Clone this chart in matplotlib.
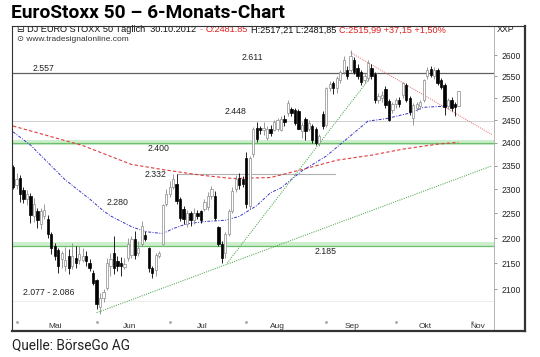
import matplotlib
matplotlib.use("Agg")
import matplotlib.pyplot as plt
from matplotlib.lines import Line2D
from matplotlib.ticker import FixedLocator, NullLocator

# Tageskerzen, Index 0 = Ende April 2012, Index 128 = 30.10.2012
eroeffnung = [2348, 2310, 2324, 2298, 2280, 2286, 2245, 2256, 2229, 2244,
              2238, 2209, 2184, 2176, 2158, 2145, 2164, 2145, 2160, 2156,
              2157, 2164, 2150, 2131, 2117, 2066, 2083, 2102, 2145, 2170,
              2154, 2150, 2143, 2160, 2166, 2199, 2170, 2189, 2207, 2180,
              2141, 2137, 2164, 2189, 2270, 2290, 2306, 2311, 2280, 2260,
              2229, 2250, 2236, 2250, 2254, 2260, 2264, 2286, 2286, 2223,
              2189, 2170, 2209, 2254, 2301, 2325, 2322, 2366, 2266, 2375,
              2433, 2433, 2429, 2411, 2431, 2429, 2431, 2429, 2453, 2466,
              2475, 2473, 2471, 2427, 2453, 2431, 2438, 2431, 2400, 2464,
              2440, 2522, 2534, 2522, 2541, 2560, 2565, 2565, 2588, 2570,
              2560, 2541, 2546, 2570, 2555, 2495, 2500, 2520, 2493, 2473,
              2486, 2495, 2507, 2530, 2500, 2455, 2477, 2482, 2495, 2551,
              2567, 2550, 2565, 2541, 2530, 2482, 2495, 2486, 2481.85]
hoch = [2352, 2335, 2330, 2305, 2298, 2292, 2282, 2262, 2262, 2270,
        2246, 2212, 2190, 2180, 2175, 2182, 2178, 2190, 2185, 2185,
        2180, 2175, 2158, 2136, 2120, 2093, 2100, 2160, 2170, 2205,
        2165, 2162, 2160, 2200, 2205, 2215, 2195, 2234, 2215, 2182,
        2145, 2170, 2175, 2270, 2300, 2318, 2332, 2332, 2285, 2265,
        2258, 2255, 2262, 2258, 2258, 2280, 2295, 2308, 2296, 2225,
        2195, 2212, 2260, 2305, 2330, 2335, 2328, 2380, 2372, 2435,
        2445, 2438, 2445, 2438, 2440, 2450, 2455, 2460, 2462, 2495,
        2480, 2478, 2475, 2445, 2458, 2450, 2442, 2435, 2420, 2470,
        2525, 2540, 2540, 2550, 2565, 2598, 2575, 2611, 2595, 2578,
        2565, 2558, 2588, 2578, 2560, 2512, 2515, 2528, 2498, 2490,
        2500, 2502, 2538, 2535, 2505, 2488, 2492, 2496, 2545, 2572,
        2575, 2572, 2570, 2546, 2535, 2500, 2502, 2492, 2517.21]
tief = [2300, 2300, 2273, 2272, 2268, 2230, 2232, 2220, 2218, 2238,
        2200, 2168, 2156, 2130, 2140, 2135, 2128, 2138, 2140, 2148,
        2152, 2145, 2135, 2108, 2062, 2052, 2075, 2098, 2125, 2128,
        2135, 2125, 2138, 2155, 2160, 2158, 2165, 2185, 2194, 2132,
        2122, 2126, 2160, 2187, 2265, 2285, 2300, 2270, 2235, 2228,
        2222, 2225, 2228, 2238, 2230, 2255, 2258, 2280, 2236, 2185,
        2150, 2160, 2205, 2250, 2295, 2300, 2305, 2262, 2260, 2370,
        2402, 2420, 2418, 2405, 2415, 2425, 2425, 2425, 2438, 2460,
        2460, 2440, 2430, 2410, 2405, 2425, 2400, 2395, 2392, 2430,
        2435, 2515, 2510, 2512, 2535, 2555, 2545, 2560, 2555, 2545,
        2530, 2535, 2540, 2545, 2488, 2488, 2492, 2478, 2448, 2465,
        2478, 2480, 2500, 2490, 2462, 2440, 2470, 2476, 2490, 2545,
        2548, 2545, 2530, 2520, 2462, 2475, 2470, 2460, 2481.85]
schluss = [2306, 2322, 2290, 2280, 2290, 2246, 2270, 2236, 2256, 2258,
           2209, 2180, 2164, 2145, 2170, 2157, 2141, 2164, 2150, 2168,
           2164, 2154, 2141, 2112, 2072, 2083, 2095, 2150, 2158, 2141,
           2145, 2145, 2148, 2189, 2199, 2166, 2180, 2225, 2199, 2141,
           2131, 2166, 2170, 2268, 2290, 2306, 2322, 2276, 2240, 2238,
           2250, 2236, 2250, 2244, 2236, 2274, 2286, 2301, 2240, 2189,
           2160, 2209, 2254, 2297, 2322, 2309, 2311, 2270, 2366, 2431,
           2409, 2429, 2433, 2431, 2422, 2447, 2451, 2453, 2445, 2488,
           2466, 2444, 2431, 2440, 2425, 2444, 2407, 2400, 2414, 2436,
           2522, 2532, 2522, 2546, 2560, 2588, 2551, 2597, 2560, 2551,
           2537, 2551, 2581, 2551, 2495, 2505, 2507, 2484, 2451, 2486,
           2495, 2486, 2534, 2495, 2468, 2484, 2486, 2491, 2541, 2565,
           2553, 2565, 2535, 2525, 2480, 2495, 2477, 2479, 2515.99]

ma_blau_idx = [0, 5, 15, 22, 26, 28, 34, 38, 43, 46, 50, 56, 61, 65, 70,
               74, 77, 83, 90, 96, 102, 107, 114, 118, 123, 128]
ma_blau = [2424, 2395, 2320, 2280, 2255, 2245, 2223, 2213, 2209, 2219, 2229,
           2234, 2236, 2244, 2266, 2293, 2303, 2339, 2371, 2409, 2448, 2453,
           2466, 2479, 2481, 2484]
ma_rot_idx = [0, 20, 34, 43, 54, 63, 74, 83, 93, 103, 112, 122, 128]
ma_rot = [2437, 2394, 2353, 2342, 2330, 2323, 2325, 2342, 2362, 2373, 2386,
          2397, 2401]

# Trendlinien (Start-/Endpunkt)
trend_lang_x, trend_lang_y = [24, 137.6], [2055, 2350]
trend_steil_x, trend_steil_y = [61.5, 102.6], [2150, 2547]
trend_rot_x, trend_rot_y = [97, 137.6], [2606, 2418]

monate = ["Mai", "Jun", "Jul", "Aug", "Sep", "Okt", "Nov"]
monate_pos = [12.1, 33.6, 54.3, 76.1, 97.4, 118.4, 133.6]
monatsanfang = [1, 24, 45, 67, 90, 110, 132]
preis_ticks = [2100, 2150, 2200, 2250, 2300, 2350, 2400, 2450, 2500, 2550, 2600]

# Marken: Text, Index, Kurs
marken = [("2.611", 68.7, 2595), ("2.557", 8.9, 2569), ("2.448", 64.0, 2470),
          ("2.400", 41.7, 2387), ("2.332", 40.8, 2332), ("2.280", 30.0, 2272),
          ("2.185", 89.7, 2174), ("2.077 - 2.086", 10.3, 2093)]

W, H = 540, 357
fig = plt.figure(figsize=(W / 100, H / 100), dpi=100)
plt.rcParams["font.family"] = ["Liberation Sans", "DejaVu Sans"]

ax = fig.add_axes([12 / W, (H - 331) / H, (494 - 12) / W, (331 - 26) / H])
ax.set_yscale("log")
ax.set_xlim(-0.3, 138.2)
ax.set_ylim(2021, 2670)

# Unterstuetzungszonen
for unten, oben, linie in [(2396, 2407, 2400), (2182, 2193, 2185)]:
    ax.axhspan(unten, oben, color="#cdeecd", lw=0, zorder=1)
    ax.axhline(linie, color="#6cbf6c", lw=0.9, zorder=1.1)

ax.axhline(2557, color="#606060", lw=0.9, zorder=1)
ax.axhline(2448, color="#cfcfcf", lw=0.7, zorder=1)
ax.axhline(2077, color="#ececec", lw=0.7, zorder=1)
ax.plot([47, 92.5], [2332, 2332], color="#b0b0b0", lw=0.8, zorder=1)

ax.plot(ma_rot_idx, ma_rot, color="#e03c3c", lw=0.8, ls=(0, (3, 2)), zorder=2)
ax.plot(ma_blau_idx, ma_blau, color="#3535c8", lw=0.7, ls=(0, (3, 1.5, 1, 1.5)), zorder=2)
ax.plot(trend_lang_x, trend_lang_y, color="#4aa84a", lw=0.75, ls=(0, (1, 1.2)), zorder=2)
ax.plot(trend_steil_x, trend_steil_y, color="#4aa84a", lw=0.75, ls=(0, (1, 1.2)), zorder=2)
ax.plot(trend_rot_x, trend_rot_y, color="#e06a6a", lw=0.7, ls=(0, (1, 1.2)), zorder=2)

# Kerzen
for i, (o, h, l, c) in enumerate(zip(eroeffnung, hoch, tief, schluss)):
    fallend = c < o
    farbe = "black" if fallend else "#8a8a8a"
    ax.vlines(i, l, h, color=farbe, lw=0.6, zorder=3)
    ax.bar(i, max(abs(c - o), 1.5), bottom=min(o, c), width=0.65,
           color="black" if fallend else "white", edgecolor=farbe, lw=0.5, zorder=4)

for text, xi, kurs in marken:
    ax.text(xi, kurs, text, fontsize=6.3, ha="center", va="center", color="#222222", zorder=5)

# Achsen
ax.yaxis.tick_right()
ax.yaxis.set_major_locator(FixedLocator(preis_ticks))
ax.yaxis.set_minor_locator(NullLocator())
ax.set_yticklabels([str(t) for t in preis_ticks])
ax.tick_params(axis="y", which="major", direction="out", length=2.5, width=0.6,
               color="#888888", labelsize=6.2, pad=3, labelcolor="#222222")
ax.set_xticks([])
for s in ["top", "bottom", "left"]:
    ax.spines[s].set_visible(False)
ax.spines["right"].set_color("#aaaaaa")
ax.spines["right"].set_linewidth(0.6)

xtrans = ax.get_xaxis_transform()
for name, pos in zip(monate, monate_pos):
    ax.text(pos, 0.014, name, transform=xtrans, fontsize=6, ha="center", va="center", color="#333333")
ax.plot(monatsanfang, [0.03] * len(monatsanfang), transform=xtrans, ls="none",
        marker="s", ms=0.8, color="#999999", clip_on=False)

# Kopfzeile im Chart
t = ax.text(0.0104, 0.987, "\u229f DJ EURO STOXX 50 Täglich  30.10.2012", transform=ax.transAxes,
            fontsize=6.6, va="center", ha="left", color="#111111")
teile = [("-", "#d08080"), ("O:2481.85", "#e02020"), ("H:2517,21 L:2481,85", "#111111"),
         ("C:2515,99 +37,15 +1,50%", "#e02020")]
vorher = t
for txt, col in teile:
    vorher = ax.annotate(txt, xy=(1, 0), xycoords=vorher, xytext=(2.2, 0),
                         textcoords="offset points", va="bottom", ha="left",
                         fontsize=6.6, color=col)
ax.text(0.0104, 0.957, "\u2299 www.tradesignalonline.com", transform=ax.transAxes,
        fontsize=6, va="center", ha="left", color="#333333")

# Rahmen
def px(x, y):
    return x / W, (H - y) / H

for (x0, y0), (x1, y1), lw in [((12, 26), (525, 26), 0.8), ((12, 26), (12, 331), 0.8),
                               ((525, 26), (525, 331), 1.6), ((12, 331), (525, 331), 1.6)]:
    a, b = px(x0, y0)
    c, d = px(x1, y1)
    fig.add_artist(Line2D([a, c], [b, d], color="#333333", lw=lw))

fig.text(*px(497, 30), "XXP", fontsize=6.4, va="center", ha="left", color="#222222")

fig.text(*px(11, 13), "EuroStoxx 50 \u2013 6-Monats-Chart", fontsize=13.8, weight="bold",
         va="center", ha="left", family=["Liberation Sans Narrow", "Roboto", "DejaVu Sans"])
fig.text(*px(12, 345), "Quelle: BörseGo AG", fontsize=9.8, va="center", ha="left",
         family=["Liberation Sans Narrow", "Roboto", "DejaVu Sans"], color="#222222")

fig.savefig("out.png", dpi=100, facecolor="white")
